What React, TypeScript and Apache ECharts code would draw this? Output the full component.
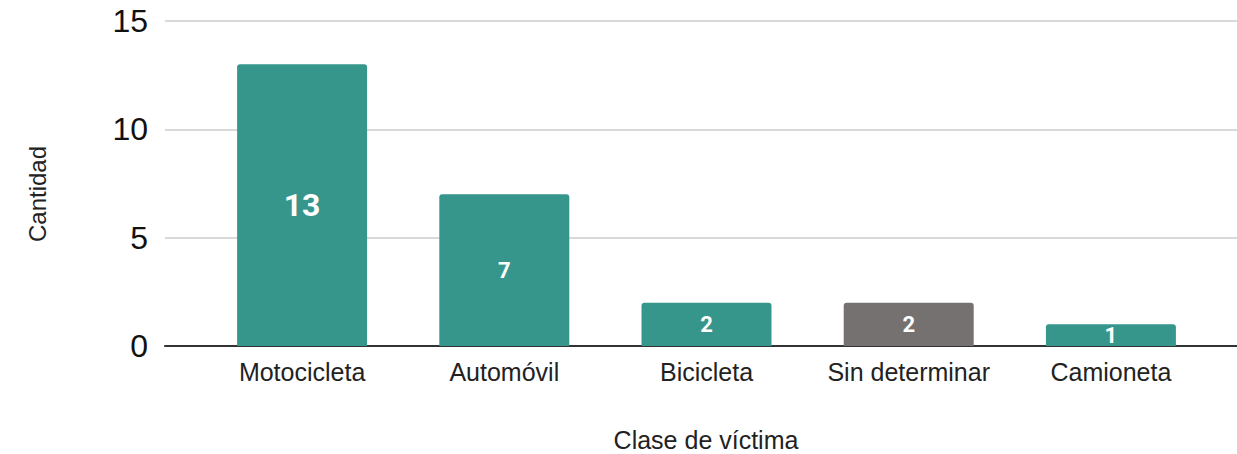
import React, { useEffect, useRef } from "react";
import * as echarts from "echarts";

const categories = ["Motocicleta", "Automóvil", "Bicicleta", "Sin determinar", "Camioneta"];
const values = [13, 7, 2, 2, 1];
const barColors = ["#36968c", "#36968c", "#36968c", "#757170", "#36968c"];
const labelSizes = [32, 22, 22, 22, 22];
const yTicks = [0, 5, 10, 15];
const xTitle = "Clase de víctima";
const yTitle = "Cantidad";

export default function App() {
  const ref = useRef<HTMLDivElement>(null);
  useEffect(() => {
    if (!ref.current) return;
    const chart = echarts.init(ref.current, null, { renderer: "svg" });
    const font = "'Liberation Sans', Arial, sans-serif";
    chart.setOption({
      animation: false,
      grid: [
        { left: 165, right: 0, top: 21, bottom: 108 },
        { left: 201, right: 25, top: 21, bottom: 108 },
      ],
      xAxis: [
        {
          gridIndex: 0,
          type: "value",
          min: 0,
          max: 1,
          axisLabel: { show: false },
          axisTick: { show: false },
          splitLine: { show: false },
          axisLine: { show: true, onZero: false, lineStyle: { color: "#333", width: 2 } },
        },
        {
          gridIndex: 1,
          type: "category",
          data: categories,
          axisLine: { show: false },
          axisTick: { show: false },
          axisLabel: { color: "#222", fontSize: 25, fontFamily: font, margin: 13, interval: 0 },
        },
      ],
      yAxis: [
        {
          gridIndex: 0,
          type: "value",
          min: yTicks[0],
          max: yTicks[yTicks.length - 1],
          interval: 5,
          axisLine: { show: false },
          axisTick: { show: false },
          axisLabel: { color: "#111", fontSize: 32, fontFamily: font, margin: 17 },
          splitLine: { show: true, lineStyle: { color: "#cccccc", width: 1.5 } },
        },
        {
          gridIndex: 1,
          type: "value",
          min: yTicks[0],
          max: yTicks[yTicks.length - 1],
          interval: 5,
          show: false,
          splitLine: { show: false },
        },
      ],
      series: [
        {
          type: "bar",
          xAxisIndex: 1,
          yAxisIndex: 1,
          barWidth: 130,
          z: 3,
          data: values.map((v, i) => ({
            value: v,
            itemStyle: { color: barColors[i], borderRadius: [3, 3, 0, 0] },
            label: { fontSize: labelSizes[i] },
          })),
          label: {
            show: true,
            position: "inside",
            color: "#ffffff",
            fontWeight: "bold",
            fontFamily: "Roboto, sans-serif",
          },
        },
      ],
      graphic: [
        {
          type: "text",
          x: 706,
          y: 440,
          style: {
            text: xTitle,
            fontSize: 25,
            fontFamily: font,
            fill: "#222",
            align: "center",
            verticalAlign: "middle",
          },
        },
        {
          type: "text",
          x: 37,
          y: 194,
          rotation: Math.PI / 2,
          style: {
            text: yTitle,
            fontSize: 24,
            fontFamily: font,
            fill: "#222",
            align: "center",
            verticalAlign: "middle",
          },
        },
      ],
    });
    return () => chart.dispose();
  }, []);
  return <div ref={ref} style={{ width: 1237, height: 454, position: "absolute", left: 0, top: 0 }} />;
}
